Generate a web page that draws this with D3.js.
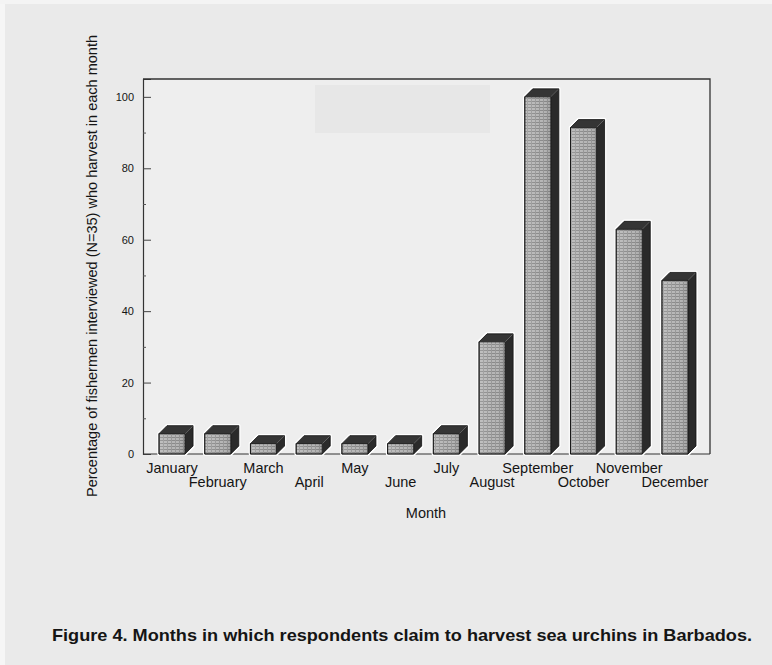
<!DOCTYPE html>
<html>
<head>
<meta charset="utf-8">
<script src="https://cdn.jsdelivr.net/npm/d3@7/dist/d3.min.js"></script>
<style>
  html, body { margin: 0; padding: 0; background: #ebebeb; }
  svg { display: block; }
  text { font-family: "Liberation Sans", Arial, Helvetica, sans-serif; fill: #151515; }
</style>
</head>
<body>
<script>
// ---- data ----
const months = ["January","February","March","April","May","June","July","August","September","October","November","December"];
const percentages = [5.7, 5.7, 2.9, 2.9, 2.9, 2.9, 5.7, 31.4, 100, 91.4, 62.9, 48.6];
const yTicks = [0, 20, 40, 60, 80, 100];
const yMinorTicks = [10, 30, 50, 70, 90];
const yTitle = "Percentage of fishermen interviewed (N=35) who harvest in each month";
const xTitle = "Month";
const caption = "Figure 4. Months in which respondents claim to harvest sea urchins in Barbados.";

const W = 772, H = 665;
const plot = { left: 143, right: 710, top: 79, bottom: 454 };

const svg = d3.select("body").append("svg").attr("width", W).attr("height", H);

// background (scanned page)
svg.append("rect").attr("width", W).attr("height", H).attr("fill", "#eaeaea");
svg.append("rect").attr("x", 0).attr("y", 0).attr("width", 5).attr("height", H).attr("fill", "#f6f6f6");
svg.append("rect").attr("x", 0).attr("y", 0).attr("width", W).attr("height", 4).attr("fill", "#f4f4f4");

const defs = svg.append("defs");
const pat = defs.append("pattern").attr("id", "tex").attr("patternUnits", "userSpaceOnUse")
  .attr("width", 4).attr("height", 3);
pat.append("rect").attr("width", 4).attr("height", 3).attr("fill", "#b6b6b6");
pat.append("rect").attr("x", 0).attr("y", 2).attr("width", 4).attr("height", 1).attr("fill", "#8a8a8a");
pat.append("rect").attr("x", 3).attr("y", 0).attr("width", 1).attr("height", 3).attr("fill", "#979797");

const grad = defs.append("linearGradient").attr("id", "shade").attr("x1", 0).attr("x2", 1).attr("y1", 0).attr("y2", 0);
grad.append("stop").attr("offset", "0%").attr("stop-color", "#ffffff").attr("stop-opacity", 0.15);
grad.append("stop").attr("offset", "55%").attr("stop-color", "#ffffff").attr("stop-opacity", 0.0);
grad.append("stop").attr("offset", "100%").attr("stop-color", "#000000").attr("stop-opacity", 0.12);

// plot area
svg.append("rect").attr("x", plot.left).attr("y", plot.top)
  .attr("width", plot.right - plot.left).attr("height", plot.bottom - plot.top)
  .attr("fill", "#eeeeee");
// faint scan artifact
svg.append("rect").attr("x", 315).attr("y", 85).attr("width", 175).attr("height", 48)
  .attr("fill", "#e7e7e7");

// scales
const y = d3.scaleLinear().domain([0, 105]).range([plot.bottom, plot.top]);
const x = d3.scaleBand().domain(months).range([159, 688]).paddingInner(0.43).paddingOuter(0);
const bw = x.bandwidth();
const dx = 8, dy = 8;

// frame (top and right)
svg.append("path")
  .attr("d", `M${plot.left},${plot.top}H${plot.right}V${plot.bottom}`)
  .attr("fill", "none").attr("stroke", "#333").attr("stroke-width", 1.3);

// y axis
const yAxis = d3.axisRight(y).tickValues(yTicks).tickSize(8).tickFormat(d3.format("d"));
const gy = svg.append("g").attr("transform", `translate(${plot.left},0)`).call(yAxis);
gy.select(".domain").attr("stroke", "#333").attr("stroke-width", 1.2);
gy.selectAll(".tick line").attr("stroke", "#444");
gy.selectAll(".tick text").attr("x", -9).attr("text-anchor", "end")
  .style("font-size", "11px").attr("fill", "#1a1a1a");
const yAxisMinor = d3.axisRight(y).tickValues(yMinorTicks).tickSize(3).tickFormat("");
const gym = svg.append("g").attr("transform", `translate(${plot.left},0)`).call(yAxisMinor);
gym.select(".domain").remove();
gym.selectAll(".tick line").attr("stroke", "#555");

// x axis line
const xAxis = d3.axisBottom(x).tickSize(0).tickFormat("");
const gx = svg.append("g").attr("transform", `translate(0,${plot.bottom})`).call(xAxis);
gx.select(".domain").attr("d", `M${plot.left},0H${plot.right}`).attr("stroke", "#333").attr("stroke-width", 1.2);

// bars (3D)
const bars = svg.append("g").selectAll("g.bar").data(months.map((m, i) => ({ m, v: percentages[i] })))
  .join("g").attr("class", "bar");

function shapes(d) {
  const x0 = x(d.m), x1 = x0 + bw, yt = y(d.v), yb = y(0);
  return {
    front: `M${x0},${yt}H${x1}V${yb}H${x0}Z`,
    top: `M${x0},${yt}L${x0 + dx},${yt - dy}H${x1 + dx}L${x1},${yt}Z`,
    side: `M${x1},${yt}L${x1 + dx},${yt - dy}V${yb - dy}L${x1},${yb}Z`,
    outline: `M${x0},${yb}V${yt}L${x0 + dx},${yt - dy}H${x1 + dx}V${yb - dy}L${x1},${yb}Z`
  };
}
bars.append("path").attr("d", d => shapes(d).outline)
  .attr("fill", "none").attr("stroke", "#ffffff").attr("stroke-width", 3.5).attr("stroke-linejoin", "round");
bars.append("path").attr("d", d => shapes(d).front).attr("fill", "url(#tex)");
bars.append("path").attr("d", d => shapes(d).front).attr("fill", "url(#shade)");
bars.append("path").attr("d", d => shapes(d).side).attr("fill", "#2a2a2a");
bars.append("path").attr("d", d => shapes(d).top).attr("fill", "#353535");
bars.append("path").attr("d", d => shapes(d).outline)
  .attr("fill", "none").attr("stroke", "#111").attr("stroke-width", 0.8);
bars.append("path").attr("d", d => shapes(d).front)
  .attr("fill", "none").attr("stroke", "#111").attr("stroke-width", 0.8);

// month labels (staggered)
svg.append("g").selectAll("text").data(months).join("text")
  .attr("x", d => x(d) + bw / 2)
  .attr("y", (d, i) => i % 2 === 0 ? 473 : 487)
  .attr("text-anchor", "middle")
  .style("font-size", "14.5px")
  .text(d => d);

// axis titles
svg.append("text").attr("x", 426).attr("y", 518).attr("text-anchor", "middle")
  .style("font-size", "14.5px").text(xTitle);
svg.append("text")
  .attr("transform", "translate(97,266) rotate(-90)")
  .attr("text-anchor", "middle")
  .attr("textLength", 462).attr("lengthAdjust", "spacingAndGlyphs")
  .style("font-size", "15px").text(yTitle);

// caption
svg.append("text").attr("x", 52).attr("y", 641)
  .attr("textLength", 700).attr("lengthAdjust", "spacingAndGlyphs")
  .style("font-size", "17px").style("font-weight", "bold").attr("fill", "#111")
  .text(caption);
</script>
</body>
</html>
